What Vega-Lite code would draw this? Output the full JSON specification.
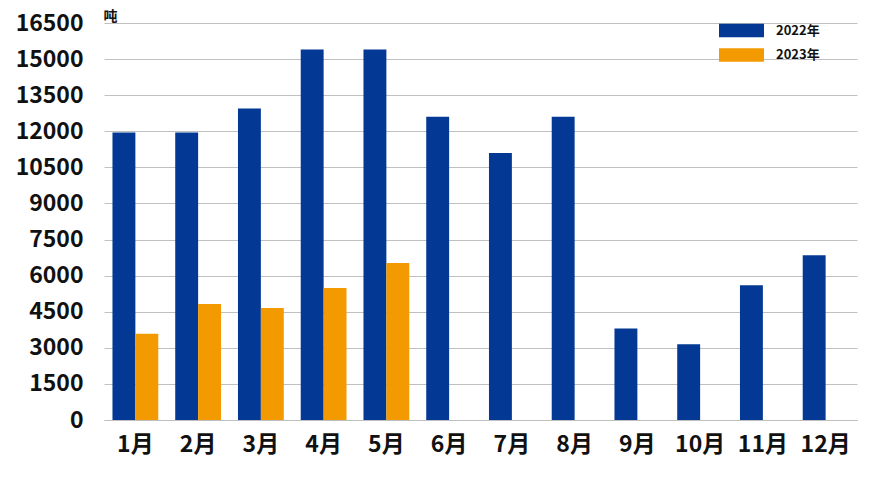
{
  "$schema": "https://vega.github.io/schema/vega-lite/v6.json",
  "width": 753,
  "height": 397,
  "autosize": {"type": "none"},
  "padding": {"left": 104, "top": 23, "right": 29, "bottom": 64},
  "background": "white",
  "config": {
    "font": "Noto Sans CJK SC",
    "view": {"stroke": null}
  },
  "data": {
    "values": [
      {"month": "1月", "year": "2022年", "value": 11950},
      {"month": "2月", "year": "2022年", "value": 11950},
      {"month": "3月", "year": "2022年", "value": 12950},
      {"month": "4月", "year": "2022年", "value": 15400},
      {"month": "5月", "year": "2022年", "value": 15400},
      {"month": "6月", "year": "2022年", "value": 12600},
      {"month": "7月", "year": "2022年", "value": 11100},
      {"month": "8月", "year": "2022年", "value": 12600},
      {"month": "9月", "year": "2022年", "value": 3800},
      {"month": "10月", "year": "2022年", "value": 3150},
      {"month": "11月", "year": "2022年", "value": 5600},
      {"month": "12月", "year": "2022年", "value": 6850},
      {"month": "1月", "year": "2023年", "value": 3580},
      {"month": "2月", "year": "2023年", "value": 4820},
      {"month": "3月", "year": "2023年", "value": 4650},
      {"month": "4月", "year": "2023年", "value": 5490},
      {"month": "5月", "year": "2023年", "value": 6520}
    ]
  },
  "mark": {"type": "bar"},
  "encoding": {
    "x": {
      "field": "month",
      "type": "nominal",
      "sort": ["1月","2月","3月","4月","5月","6月","7月","8月","9月","10月","11月","12月"],
      "scale": {"paddingInner": 0.27, "paddingOuter": 0.135},
      "axis": {
        "title": null,
        "labelAngle": 0,
        "labelFontSize": 23,
        "labelFontWeight": "bold",
        "labelColor": "#111111",
        "labelPadding": 13,
        "ticks": false,
        "domainColor": "#bfbfbf",
        "domainWidth": 1
      }
    },
    "xOffset": {"field": "year", "type": "nominal", "sort": ["2022年", "2023年"]},
    "y": {
      "field": "value",
      "type": "quantitative",
      "scale": {"domain": [0, 16500], "nice": false},
      "axis": {
        "values": [0,1500,3000,4500,6000,7500,9000,10500,12000,13500,15000,16500],
        "format": "d",
        "labelFontSize": 23,
        "labelFontWeight": "bold",
        "labelColor": "#111111",
        "labelPadding": 21,
        "ticks": false,
        "domain": false,
        "gridColor": "#c0c0c0",
        "gridWidth": 1,
        "title": "吨",
        "titleAngle": 0,
        "titleFontSize": 14,
        "titleFontWeight": "bold",
        "titleColor": "#111111",
        "titleAlign": "left",
        "titleBaseline": "alphabetic",
        "titleX": -1,
        "titleY": -3
      }
    },
    "color": {
      "field": "year",
      "type": "nominal",
      "scale": {"domain": ["2022年", "2023年"], "range": ["#033994", "#F39A00"]},
      "legend": {
        "title": null,
        "orient": "none",
        "legendX": 626,
        "legendY": -4,
        "symbolType": "M-2,-0.6H2V0.6H-2Z",
        "symbolSize": 506,
        "symbolStrokeWidth": 0,
        "symbolOpacity": 1,
        "labelFontSize": 13,
        "labelFontWeight": "bold",
        "labelColor": "#111111",
        "labelOffset": 23,
        "rowPadding": 5.5
      }
    }
  }
}
